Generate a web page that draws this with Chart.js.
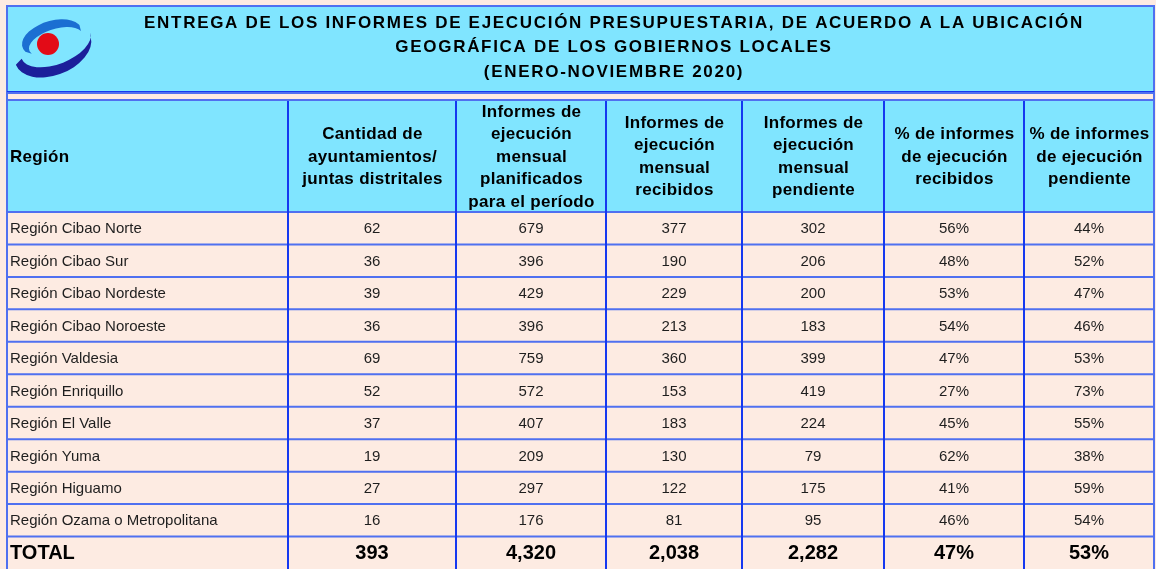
<!DOCTYPE html>
<html>
<head>
<meta charset="utf-8">
<script src="https://cdn.jsdelivr.net/npm/chart.js@4/dist/chart.umd.min.js"></script>
<style>
  html, body { margin: 0; padding: 0; background: #fdebe2; }
  #tabla { display: block; }
</style>
</head>
<body>
<canvas id="tabla" width="1156" height="569"></canvas>
<script>
const titulo = [
  'ENTREGA DE LOS INFORMES DE EJECUCIÓN PRESUPUESTARIA, DE ACUERDO A LA UBICACIÓN',
  'GEOGRÁFICA DE LOS GOBIERNOS LOCALES',
  '(ENERO-NOVIEMBRE 2020)'
];
const encabezados = [
  ['Región'],
  ['Cantidad de', 'ayuntamientos/', 'juntas distritales'],
  ['Informes de', 'ejecución', 'mensual', 'planificados', 'para el período'],
  ['Informes de', 'ejecución', 'mensual', 'recibidos'],
  ['Informes de', 'ejecución', 'mensual', 'pendiente'],
  ['% de informes', 'de ejecución', 'recibidos'],
  ['% de informes', 'de ejecución', 'pendiente']
];
const regiones = [
  'Región Cibao Norte', 'Región Cibao Sur', 'Región Cibao Nordeste', 'Región Cibao Noroeste',
  'Región Valdesia', 'Región Enriquillo', 'Región El Valle', 'Región Yuma',
  'Región Higuamo', 'Región Ozama o Metropolitana'
];
const ayuntamientos = [62, 36, 39, 36, 69, 52, 37, 19, 27, 16];
const planificados = [679, 396, 429, 396, 759, 572, 407, 209, 297, 176];
const recibidos = [377, 190, 229, 213, 360, 153, 183, 130, 122, 81];
const pendientes = [302, 206, 200, 183, 399, 419, 224, 79, 175, 95];
const pctRecibidos = [56, 48, 53, 54, 47, 27, 45, 62, 41, 46];
const pctPendientes = [44, 52, 47, 46, 53, 73, 55, 38, 59, 54];
const totales = [393, 4320, 2038, 2282, 47, 53];

// layout / styles
const anchos = [280, 168, 150, 136, 142, 140, 130]; // column widths
const FUENTE = '"Liberation Sans", Arial, sans-serif';
const CIAN = '#80e5ff';
const FONDO = '#fdebe2';
const AZUL = '#1538f0';
const AZUL_CLARO = '#4f70f0';

const bordes = [0];
anchos.forEach(w => bordes.push(bordes[bordes.length - 1] + w));
const centros = anchos.map((w, i) => bordes[i] + w / 2);

const filas = [...regiones, 'TOTAL'];
const columnas = [ayuntamientos, planificados, recibidos, pendientes, pctRecibidos, pctPendientes];
const esPct = [false, false, false, false, true, true];

const fmt = (v, pct) => pct ? v + '%' : v.toLocaleString('en-US');

const datasets = [{
  label: 'Región',
  data: filas.map(r => ({ x: bordes[0], y: r, t: r })),
  pointRadius: 0
}].concat(columnas.map((vals, k) => ({
  label: encabezados[k + 1].join(' '),
  data: filas.map((r, i) => ({
    x: centros[k + 1],
    y: r,
    t: fmt(i < regiones.length ? vals[i] : totales[k], esPct[k])
  })),
  pointRadius: 0
})));

function dibujarLogo(ctx) {
  ctx.save();
  // lower dark swoosh
  ctx.fillStyle = '#1c1f9a';
  ctx.beginPath();
  ctx.ellipse(53, 50, 40, 25, -0.38, 0.02 * Math.PI, 1.0 * Math.PI);
  ctx.ellipse(56, 45, 37, 19, -0.38, 1.0 * Math.PI, 0.02 * Math.PI, true);
  ctx.closePath();
  ctx.fill();
  // upper blue swoosh
  ctx.fillStyle = '#1b6fd2';
  ctx.beginPath();
  ctx.ellipse(52, 38, 31, 17, -0.3, 0.9 * Math.PI, 1.92 * Math.PI);
  ctx.ellipse(56, 42, 28, 13, -0.3, 1.92 * Math.PI, 0.9 * Math.PI, true);
  ctx.closePath();
  ctx.fill();
  // red dot
  ctx.fillStyle = '#e30b17';
  ctx.beginPath();
  ctx.arc(48, 44, 11, 0, Math.PI * 2);
  ctx.fill();
  ctx.restore();
}

const tablaPlugin = {
  id: 'tablaPlugin',
  beforeDraw(chart) {
    const { ctx, chartArea: a, scales: { x, y } } = chart;
    ctx.save();
    ctx.fillStyle = FONDO;
    ctx.fillRect(0, 0, chart.width, chart.height);

    const left = a.left - 1, right = a.right;
    // title band
    ctx.fillStyle = CIAN;
    ctx.fillRect(left, 5, right - left, 87);
    ctx.strokeStyle = AZUL_CLARO;
    ctx.lineWidth = 2;
    ctx.beginPath();
    ctx.moveTo(left, 92); ctx.lineTo(left, 6); ctx.lineTo(right, 6); ctx.lineTo(right, 92);
    ctx.stroke();
    ctx.strokeStyle = AZUL;
    ctx.beginPath(); ctx.moveTo(left, 92); ctx.lineTo(right, 92); ctx.stroke();
    dibujarLogo(ctx);

    ctx.fillStyle = '#000';
    ctx.font = 'bold 17px ' + FUENTE;
    ctx.letterSpacing = '1.7px';
    ctx.textAlign = 'center';
    ctx.textBaseline = 'middle';
    [23, 47, 72].forEach((ty, i) => ctx.fillText(titulo[i], 614, ty));

    // header row
    const step = y.getPixelForValue(1) - y.getPixelForValue(0);
    const top = y.getPixelForValue(0) - step / 2;
    ctx.fillStyle = CIAN;
    ctx.fillRect(left, 100, right - left, top - 100);

    ctx.fillStyle = '#000';
    ctx.font = 'bold 17px ' + FUENTE;
    ctx.letterSpacing = '0.3px';
    encabezados.forEach((lineas, k) => {
      const lh = 22.5;
      const y0 = (100 + top) / 2 - (lineas.length - 1) * lh / 2 + 1;
      if (k === 0) {
        ctx.textAlign = 'left';
        ctx.fillText(lineas[0], x.getPixelForValue(bordes[0]) + 2, y0);
      } else {
        ctx.textAlign = 'center';
        lineas.forEach((l, j) => ctx.fillText(l, x.getPixelForValue(centros[k]) + 0.5, y0 + j * lh));
      }
    });
    ctx.letterSpacing = '0px';

    // horizontal lines
    ctx.strokeStyle = AZUL_CLARO;
    ctx.lineWidth = 2;
    ctx.beginPath();
    ctx.moveTo(left, 100); ctx.lineTo(right, 100);
    ctx.moveTo(left, 93); ctx.lineTo(right, 93);
    for (let i = 0; i < filas.length; i++) {
      const py = y.getPixelForValue(i) - step / 2;
      ctx.moveTo(left, py); ctx.lineTo(right, py);
    }
    ctx.stroke();

    // vertical lines
    ctx.beginPath();
    ctx.moveTo(left, 92); ctx.lineTo(left, chart.height);
    ctx.moveTo(right, 92); ctx.lineTo(right, chart.height);
    ctx.stroke();
    ctx.strokeStyle = AZUL;
    ctx.beginPath();
    for (let i = 1; i < bordes.length - 1; i++) {
      const px = Math.round(x.getPixelForValue(bordes[i]));
      ctx.moveTo(px, 101); ctx.lineTo(px, chart.height);
    }
    ctx.stroke();
    ctx.restore();
  },
  afterDatasetsDraw(chart) {
    const { ctx } = chart;
    ctx.save();
    ctx.textBaseline = 'middle';
    chart.data.datasets.forEach((ds, k) => {
      const meta = chart.getDatasetMeta(k);
      meta.data.forEach((el, i) => {
        const total = i === filas.length - 1;
        ctx.fillStyle = total ? '#000' : '#1e1e1e';
        ctx.font = (total ? 'bold 20px ' : '15px ') + FUENTE;
        if (k === 0) {
          ctx.textAlign = 'left';
          ctx.fillText(ds.data[i].t, el.x + 2, el.y + 1);
        } else {
          ctx.textAlign = 'center';
          ctx.fillText(ds.data[i].t, el.x, el.y + 1);
        }
      });
    });
    ctx.restore();
  }
};

new Chart(document.getElementById('tabla'), {
  type: 'scatter',
  data: { datasets },
  options: {
    responsive: false,
    animation: false,
    events: [],
    layout: { padding: { left: 8, right: 2, top: 212, bottom: 0 } },
    plugins: { legend: { display: false }, tooltip: { enabled: false } },
    scales: {
      x: { type: 'linear', min: bordes[0], max: bordes[bordes.length - 1], display: false },
      y: { type: 'category', labels: filas, offset: true, display: false }
    }
  },
  plugins: [tablaPlugin]
});
</script>
</body>
</html>
